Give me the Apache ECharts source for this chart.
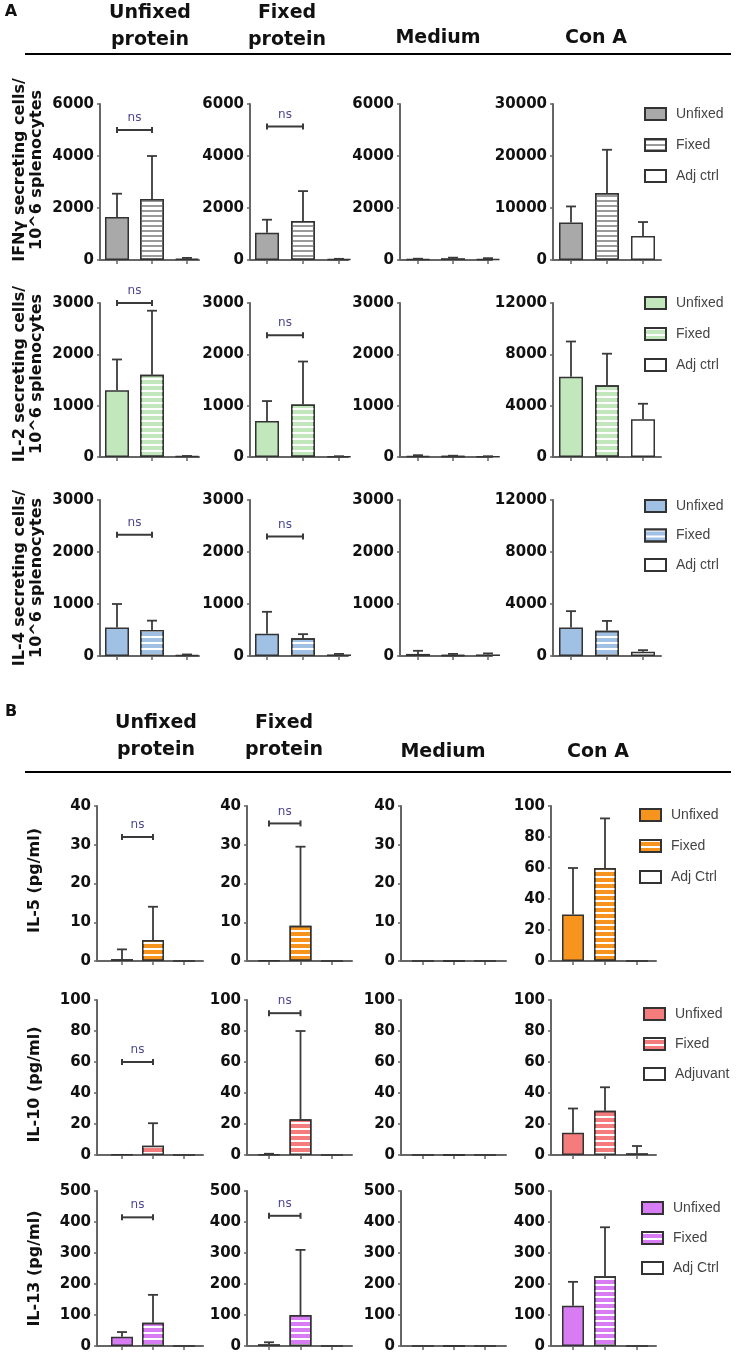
<!DOCTYPE html>
<html><head><meta charset="utf-8">
<script src="https://cdn.jsdelivr.net/npm/echarts@6/dist/echarts.min.js"></script>
<style>html,body{margin:0;padding:0;background:#fff}#c{width:736px;height:1358px}</style>
</head><body><div id="c"></div>
<script>
// ---------- DATA ----------
const sectionLabels = ['A', 'B'];
const columnHeaders = ['Unfixed\nprotein', 'Fixed\nprotein', 'Medium', 'Con A'];
const rowTitles = [
  'IFNγ secreting cells/\n10^6 splenocytes',
  'IL-2 secreting cells/\n10^6 splenocytes',
  'IL-4 secreting cells/\n10^6 splenocytes',
  'IL-5 (pg/ml)',
  'IL-10 (pg/ml)',
  'IL-13 (pg/ml)'
];
const legendLabels = [
  ['Unfixed', 'Fixed', 'Adj ctrl'],
  ['Unfixed', 'Fixed', 'Adj ctrl'],
  ['Unfixed', 'Fixed', 'Adj ctrl'],
  ['Unfixed', 'Fixed', 'Adj Ctrl'],
  ['Unfixed', 'Fixed', 'Adjuvant'],
  ['Unfixed', 'Fixed', 'Adj Ctrl']
];
const yMax = [
  [6000, 6000, 6000, 30000],
  [3000, 3000, 3000, 12000],
  [3000, 3000, 3000, 12000],
  [40, 40, 40, 100],
  [100, 100, 100, 100],
  [500, 500, 500, 500]
];
const yInterval = [
  [2000, 2000, 2000, 10000],
  [1000, 1000, 1000, 4000],
  [1000, 1000, 1000, 4000],
  [10, 10, 10, 20],
  [20, 20, 20, 20],
  [100, 100, 100, 100]
];
// means per column (Unfixed protein, Fixed protein, Medium, Con A) x group (Unfixed, Fixed, Adj)
const ifngMean  = [[1650, 2350, 50], [1050, 1500, 30], [30, 60, 40], [7200, 12900, 4600]];
const ifngUpper = [[2550, 4000, 80], [1550, 2650, 45], [50, 90, 70], [10300, 21200, 7300]];
const ifngNs = [5000, 5130];
const il2Mean  = [[1300, 1600, 15], [700, 1025, 10], [20, 15, 10], [6250, 5600, 2950]];
const il2Upper = [[1900, 2850, 20], [1090, 1860, 15], [35, 25, 15], [9000, 8050, 4150]];
const il2Ns = [3000, 2370];
const il4Mean  = [[550, 500, 20], [430, 340, 30], [40, 20, 30], [2200, 1950, 330]];
const il4Upper = [[1000, 680, 30], [850, 420, 40], [100, 40, 50], [3450, 2700, 450]];
const il4Ns = [2330, 2300];
const il5Mean  = [[0.5, 5.4, 0], [0.1, 9.1, 0], [0, 0, 0], [30, 60, 0]];
const il5Upper = [[3, 14, 0], [0.1, 29.5, 0], [0, 0, 0], [60, 92, 0]];
const il5Ns = [32, 35.5];
const il10Mean  = [[0.2, 6, 0], [0.4, 23, 0], [0, 0, 0], [14.4, 28.6, 1.2]];
const il10Upper = [[0.2, 20.5, 0], [0.8, 80, 0], [0, 0, 0], [30, 43.7, 5.8]];
const il10Ns = [60, 91.5];
const il13Mean  = [[30, 75, 0], [6, 100, 0], [0, 0, 0], [130, 225, 0]];
const il13Upper = [[45, 165, 0], [12, 310, 0], [0, 0, 0], [207, 383, 0]];
const il13Ns = [415, 420];

const rowMeans = [ifngMean, il2Mean, il4Mean, il5Mean, il10Mean, il13Mean];
const rowUppers = [ifngUpper, il2Upper, il4Upper, il5Upper, il10Upper, il13Upper];
const rowNs = [ifngNs, il2Ns, il4Ns, il5Ns, il10Ns, il13Ns];
const rowColors = ['#a9a9a9', '#c3e7bd', '#a0c0e4', '#f7941d', '#f47c7c', '#d77cf2'];

// ---------- LAYOUT ----------
const rowTop = [104, 303, 500, 806, 1000, 1191];
const rowBottom = [260, 457, 656, 961, 1155, 1346];
const secGeom = [
  {axis: [100, 250, 400, 553], t1: [117, 267, 418, 571], t3: [187, 339, 488, 643], end: [199, 348, 492, 661], barW: 24,
   headerX: [150, 287, 438, 596], headerY2: 27, headerY1: 38, lineY: 54, labelY: 12},
  {axis: [97, 247, 401, 551], t1: [122, 269, 423, 573], t3: [184, 332, 485, 637], end: [203, 352, 506, 656], barW: 22,
   headerX: [156, 284, 443, 598], headerY2: 737, headerY1: 752, lineY: 772, labelY: 712}
];
const legendPos = [[639, 102, 17], [639, 291, 17], [639, 494, 15.5], [634, 803, 17], [638, 1002, 16], [636, 1196, 16]];
const titleGap = [54, 54, 54, 53, 53, 53];
// padding on rotated titles: [top,right,bottom,left]; left padding moves text up, right moves it down
const titlePad = [[0, 0, 0, 24], [0, 0, 0, 12], [0, 0, 0, 0], [0, 0, 0, 6], [0, 14, 0, 0], [0, 0, 0, 0]];

const AX = '#666', INK = '#111', ERR = '#3a3a3a', BORDER = '#333';
const grids = [], xAxes = [], yAxes = [], series = [], legends = [];

function errRender(params, api) {
  const x = api.value(0), m = api.value(1), u = api.value(2);
  const p0 = api.coord([x, m]), p1 = api.coord([x, u]);
  const st = {stroke: ERR, lineWidth: 1.8};
  return {type: 'group', children: [
    {type: 'line', shape: {x1: p0[0], y1: p0[1], x2: p1[0], y2: p1[1]}, style: st},
    {type: 'line', shape: {x1: p1[0] - 5, y1: p1[1], x2: p1[0] + 5, y2: p1[1]}, style: st}
  ]};
}
function nsRender(params, api) {
  const a = api.value(0), b = api.value(1), v = api.value(2);
  const p0 = api.coord([a, v]), p1 = api.coord([b, v]);
  const st = {stroke: ERR, lineWidth: 2};
  return {type: 'group', children: [
    {type: 'line', shape: {x1: p0[0], y1: p0[1], x2: p1[0], y2: p1[1]}, style: st},
    {type: 'line', shape: {x1: p0[0], y1: p0[1] - 3, x2: p0[0], y2: p0[1] + 3}, style: st},
    {type: 'line', shape: {x1: p1[0], y1: p1[1] - 3, x2: p1[0], y2: p1[1] + 3}, style: st},
    {type: 'text', x: (p0[0] + p1[0]) / 2, y: p0[1] - 12,
     style: {text: 'ns', fill: '#4b4690', font: '12px "DejaVu Sans"', align: 'center', verticalAlign: 'middle'}}
  ]};
}

for (let r = 0; r < 6; r++) {
  const s = r < 3 ? 0 : 1;
  const g = secGeom[s];
  const names = legendLabels[r].map(l => r + '|' + l);
  const col = rowColors[r];
  const styles = [
    {color: col, borderColor: BORDER, borderWidth: 1.5},
    r === 0
      ? {color: '#ffffff', borderColor: BORDER, borderWidth: 1.5,
         decal: {symbol: 'rect', symbolSize: 1, color: '#9a9a9a', dashArrayX: [1, 0], dashArrayY: [2, 3], rotation: 0}}
      : {color: col, borderColor: BORDER, borderWidth: 1.5,
         decal: {symbol: 'rect', symbolSize: 1, color: '#ffffff', dashArrayX: [1, 0], dashArrayY: [2, 4], rotation: 0}},
    {color: '#ffffff', borderColor: BORDER, borderWidth: 1.5}
  ];
  for (let c = 0; c < 4; c++) {
    const gi = r * 4 + c;
    const sp = (g.t3[c] - g.t1[c]) / 2;
    grids.push({left: g.axis[c], top: rowTop[r], width: g.end[c] - g.axis[c], height: rowBottom[r] - rowTop[r]});
    xAxes.push({gridIndex: gi, type: 'value',
      min: 1 - (g.t1[c] - g.axis[c]) / sp, max: 3 + (g.end[c] - g.t3[c]) / sp,
      axisLine: {show: true, onZero: false, lineStyle: {color: AX, width: 2}},
      axisTick: {show: true, customValues: [1, 2, 3], length: 4, lineStyle: {color: AX, width: 1.5}},
      axisLabel: {show: false}, splitLine: {show: false}});
    const ya = {gridIndex: gi, type: 'value', min: 0, max: yMax[r][c], interval: yInterval[r][c],
      axisLine: {show: true, onZero: false, lineStyle: {color: AX, width: 2}},
      axisTick: {show: true, length: 3, lineStyle: {color: AX, width: 1.5}},
      axisLabel: {margin: 6, color: INK, fontFamily: 'DejaVu Sans', fontWeight: 'bold', fontSize: 15,
        formatter: v => String(v)},
      splitLine: {show: false}};
    if (c === 0) {
      Object.assign(ya, {name: rowTitles[r], nameLocation: 'middle', nameRotate: 90, nameGap: titleGap[r],
        nameTextStyle: {color: INK, fontFamily: 'DejaVu Sans', fontWeight: 'bold', fontSize: 16, lineHeight: 17.5,
          padding: titlePad[r]}});
    }
    yAxes.push(ya);
    const mean = rowMeans[r][c], up = rowUppers[r][c];
    for (let k = 0; k < 3; k++) {
      series.push({type: 'bar', name: names[k], xAxisIndex: gi, yAxisIndex: gi, barWidth: g.barW, barGap: '-100%',
        data: [[k + 1, mean[k]]], itemStyle: styles[k], silent: true, z: 2});
    }
    const errData = [];
    for (let k = 0; k < 3; k++) if (up[k] > mean[k]) errData.push([k + 1, mean[k], up[k]]);
    if (errData.length) series.push({type: 'custom', xAxisIndex: gi, yAxisIndex: gi, renderItem: errRender,
      data: errData, silent: true, z: 3});
    if (c < 2) series.push({type: 'custom', xAxisIndex: gi, yAxisIndex: gi, renderItem: nsRender,
      data: [[1, 2, rowNs[r][c]]], silent: true, z: 3});
  }
  legends.push({orient: 'vertical', left: legendPos[r][0], top: legendPos[r][1], itemWidth: 21, itemHeight: 12,
    itemGap: legendPos[r][2], icon: 'rect', selectedMode: false, data: names,
    formatter: n => n.split('|')[1],
    textStyle: {color: '#444', fontFamily: 'Liberation Sans', fontSize: 14, padding: [0, 0, 0, 5]}});
}

const graphics = [];
secGeom.forEach((g, s) => {
  graphics.push({type: 'text', x: 11, y: g.labelY,
    style: {text: sectionLabels[s], font: 'bold 16px "DejaVu Sans"', fill: INK, align: 'center', verticalAlign: 'middle'}});
  columnHeaders.forEach((h, c) => {
    graphics.push({type: 'text', x: g.headerX[c], y: h.includes('\n') ? g.headerY2 : g.headerY1,
      style: {text: h, font: 'bold 19px "DejaVu Sans"', lineHeight: 27, fill: INK, align: 'center', verticalAlign: 'middle'}});
  });
  graphics.push({type: 'line', shape: {x1: 25, y1: g.lineY, x2: 731, y2: g.lineY}, style: {stroke: '#000', lineWidth: 2}});
});

const chart = echarts.init(document.getElementById('c'), null, {renderer: 'canvas'});
chart.setOption({animation: false, backgroundColor: '#fff', grid: grids, xAxis: xAxes, yAxis: yAxes,
  series, legend: legends, graphic: graphics});
</script></body></html>
